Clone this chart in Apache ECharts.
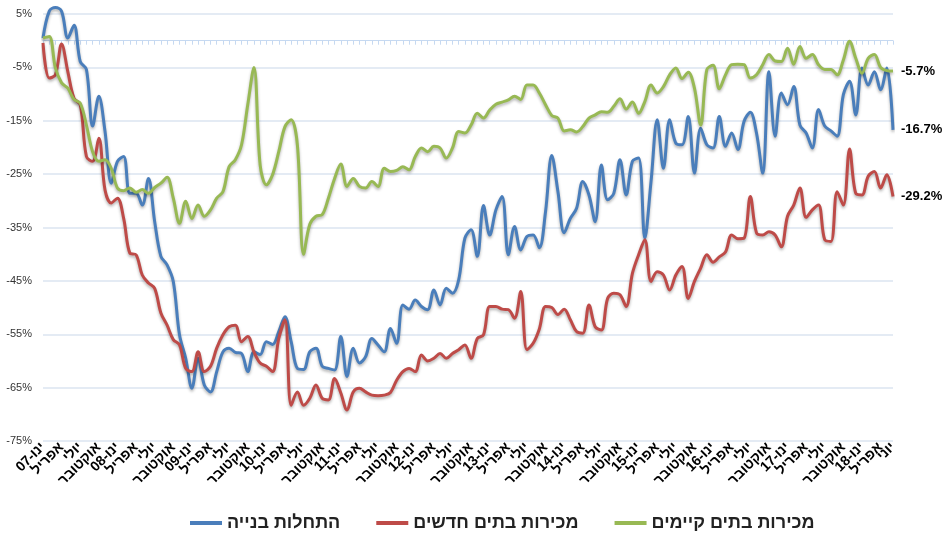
<!DOCTYPE html>
<html>
<head>
<meta charset="utf-8">
<script src="https://cdn.jsdelivr.net/npm/echarts@6/dist/echarts.min.js"></script>
<style>
html,body{margin:0;padding:0;background:#fff;}
#chart{width:950px;height:533px;}
</style>
</head>
<body>
<div id="chart"></div>
<script>
// Month labels (Jan 2007 – Jun 2018)
const monthNames = ["ינו","פבר","מרץ","אפריל","מאי","יוני","יולי","אוג","ספט","אוקטובר","נוב","דצמ"];
const categories = [];
for (let y = 7; y <= 18; y++) {
  for (let m = 0; m < 12; m++) {
    if (y === 18 && m > 5) break;
    categories.push(m === 0 ? "ינו-" + String(y).padStart(2, "0") : monthNames[m]);
  }
}

const seriesNames = ["התחלות בנייה", "מכירות בתים חדשים", "מכירות בתים קיימים"];

const housingStarts = [
0.5,5.5,6.2,5.5,0.5,2.9,-3.9,-5.4,-16,-10.4,-17,-26.7,-22.6,-21.7,-28.6,-28.6,-30.8,-25.8,-33.9,-40.4,
-42,-45.1,-55.1,-59.5,-65.1,-59.5,-64.5,-65.8,-62,-58.3,-57.6,-58.4,-58.6,-62,-58.3,-58.8,-56.4,-56.9,-54.5,-51.7,
-56.4,-61.4,-61.6,-58.3,-57.6,-61,-61.4,-61.7,-55.4,-62.9,-57.6,-60.4,-59.2,-55.8,-57,-58.3,-53.9,-56.7,-49.5,-50.3,
-48.6,-49.8,-50.4,-46.7,-49.5,-46.4,-47.3,-44.8,-37,-35.4,-40.4,-30.9,-36.4,-31.7,-29.2,-40.1,-34.8,-39.2,-36.7,-36.4,
-38.8,-32,-21.5,-28.3,-36,-33.3,-31.4,-26.4,-28.9,-33.9,-23.3,-29.8,-28.6,-22.3,-28.9,-22.6,-22,-37,-26.4,-14.8,
-23.9,-14.8,-19.2,-19.5,-14.2,-24.8,-16.4,-19.5,-20.1,-14.2,-19.8,-17.3,-20.4,-15.1,-13.4,-17.3,-24.8,-5.8,-17.9,-9.8,
-12,-8.6,-15.8,-17.3,-20.1,-12.9,-16,-16.9,-17.9,-10.1,-7.6,-13.9,-5.1,-8.3,-5.8,-9.2,-5.1,-16.7
];

const newHomeSales = [
-0.4,-7,-6.4,-0.6,-5.8,-10.8,-12,-21.7,-22.6,-18.3,-28,-30.4,-29.5,-33.3,-39.8,-40.1,-43.9,-45.4,-46.4,-51,
-53.3,-56,-57,-61.4,-62,-58.3,-62,-61,-57.6,-55.1,-53.6,-53.3,-56.4,-55.4,-58.3,-60.4,-61,-62,-55.8,-52.3,
-68.3,-65.8,-68.3,-67,-64.5,-67,-67.3,-63.3,-66,-69.2,-65.8,-65.1,-65.8,-66.4,-66.5,-66.4,-65.9,-63.6,-62,-61.4,
-62,-58.9,-60,-59.5,-58.6,-59.5,-58.6,-57.9,-57,-59.5,-55.8,-55.1,-49.8,-49.8,-50.3,-50.4,-52,-47,-57.9,-56.7,
-54,-49.8,-50,-51.3,-50.3,-52.3,-54.5,-54.8,-49.5,-53.6,-54.2,-48.3,-47.3,-47.6,-49.8,-43.6,-40.1,-37.3,-45.1,-43.3,
-43.9,-46.7,-43.9,-42.3,-48.3,-45.1,-42.6,-40.1,-41.5,-40.5,-39.6,-36.4,-37.1,-37,-29.2,-36,-36.4,-35.8,-36.4,-38.6,
-32.9,-30.8,-27.6,-33.1,-31.7,-30.8,-37.3,-37.6,-28.3,-30.8,-20.3,-28.6,-28.9,-25.4,-24.5,-27.6,-25.1,-29.2
];

const existingHomeSales = [
0.5,0.8,-5.1,-7.9,-8.9,-11,-11.7,-15.8,-20.8,-22.6,-22.3,-23.9,-27.6,-28.1,-27.6,-28.4,-27.9,-28.6,-27.5,-26.7,
-25.6,-29.5,-34.2,-30.1,-33.3,-30.8,-32.9,-31.7,-29.5,-28.3,-23.6,-22.3,-19.5,-12,-5,-23.3,-27,-25.1,-20.8,-16.1,
-14.8,-19.5,-40,-34.4,-32.9,-32.6,-29.5,-25.8,-23.1,-27.3,-25.8,-27.3,-27.6,-26.4,-27.3,-23.9,-24.5,-24.3,-23.6,-24.2,
-21.7,-20.1,-20.8,-19.8,-20.1,-22,-20.1,-17,-17.3,-15.8,-13.6,-14.5,-13,-11.9,-11.5,-11.1,-10.4,-11,-8.3,-8.3,
-9.8,-12,-14,-14.5,-16.9,-16.7,-17.1,-16.1,-14.5,-13.9,-13.3,-13.4,-12.3,-10.9,-12.8,-11.5,-13.6,-11.4,-8.3,-9.8,
-8.6,-6.4,-5.1,-7.1,-5.9,-8.9,-15.8,-5.4,-4.6,-9,-6.4,-4.5,-4.4,-4.5,-7,-6.4,-4.5,-2.6,-3.8,-3.9,
-1.4,-4.4,-1.1,-3.3,-2.6,-4.5,-5.4,-5.4,-6.4,-3.6,-0.1,-3.3,-6.1,-3.3,-2.6,-5,-5.6,-5.7
];

const yMin = -75, yMax = 5, yStep = 10;
const colors = ["#4a7ebb", "#be4b48", "#98b954"];
const font = "'Liberation Sans', 'DejaVu Sans', sans-serif";

const chart = echarts.init(document.getElementById('chart'));
const lastIdx = categories.length - 1;

function lineSeries(name, data, color) {
  return {
    name: name,
    type: 'line',
    data: data,
    xAxisIndex: 0,
    smooth: 0.35,
    clip: false,
    symbol: 'none',
    lineStyle: { color: color, width: 3, shadowColor: 'rgba(0,0,0,0.3)', shadowBlur: 3, shadowOffsetY: 2 },
    itemStyle: { color: color },
    endLabel: {
      show: true,
      formatter: p => p.value.toFixed(1) + '%',
      color: '#000',
      fontWeight: 'bold',
      fontSize: 13,
      fontFamily: font,
      distance: 8
    },
    emphasis: { disabled: true }
  };
}

chart.setOption({
  animation: false,
  backgroundColor: '#fff',
  grid: { left: 43, right: 57, top: 14, bottom: 92, containLabel: false },
  legend: {
    data: seriesNames,
    left: 185,
    top: 509,
    icon: 'rect',
    itemWidth: 32,
    itemHeight: 4,
    itemGap: 36,
    textStyle: { fontSize: 18, fontWeight: 'bold', color: '#222', fontFamily: font }
  },
  xAxis: [
    {
      type: 'category',
      data: categories,
      boundaryGap: false,
      axisLine: { show: true, onZero: true, lineStyle: { color: '#c6d9f1', width: 1 } },
      axisTick: { show: true, interval: 0, length: 4, lineStyle: { color: '#c6d9f1' } },
      axisLabel: { show: false },
      splitLine: { show: false }
    },
    {
      type: 'category',
      data: categories,
      boundaryGap: false,
      position: 'bottom',
      axisLine: { show: false, onZero: false },
      axisTick: { show: false },
      axisLabel: {
        show: true,
        rotate: 45,
        margin: 4,
        interval: 0,
        hideOverlap: false,
        formatter: (v, i) => (i % 3 === 0 || i === lastIdx) ? '\u202B' + v + '\u202C' : '',
        fontSize: 14,
        fontWeight: 'bold',
        color: '#000',
        fontFamily: font
      },
      splitLine: { show: false }
    }
  ],
  yAxis: {
    type: 'value',
    min: yMin,
    max: yMax,
    interval: yStep,
    axisLine: { show: false },
    axisTick: { show: false },
    axisLabel: {
      formatter: v => v + '%',
      fontSize: 11,
      color: '#333',
      margin: 11,
      fontFamily: font
    },
    splitLine: { show: true, lineStyle: { color: '#dbe5f1', width: 1.5 } }
  },
  series: [
    lineSeries(seriesNames[0], housingStarts, colors[0]),
    lineSeries(seriesNames[1], newHomeSales, colors[1]),
    lineSeries(seriesNames[2], existingHomeSales, colors[2])
  ]
});
</script>
</body>
</html>
